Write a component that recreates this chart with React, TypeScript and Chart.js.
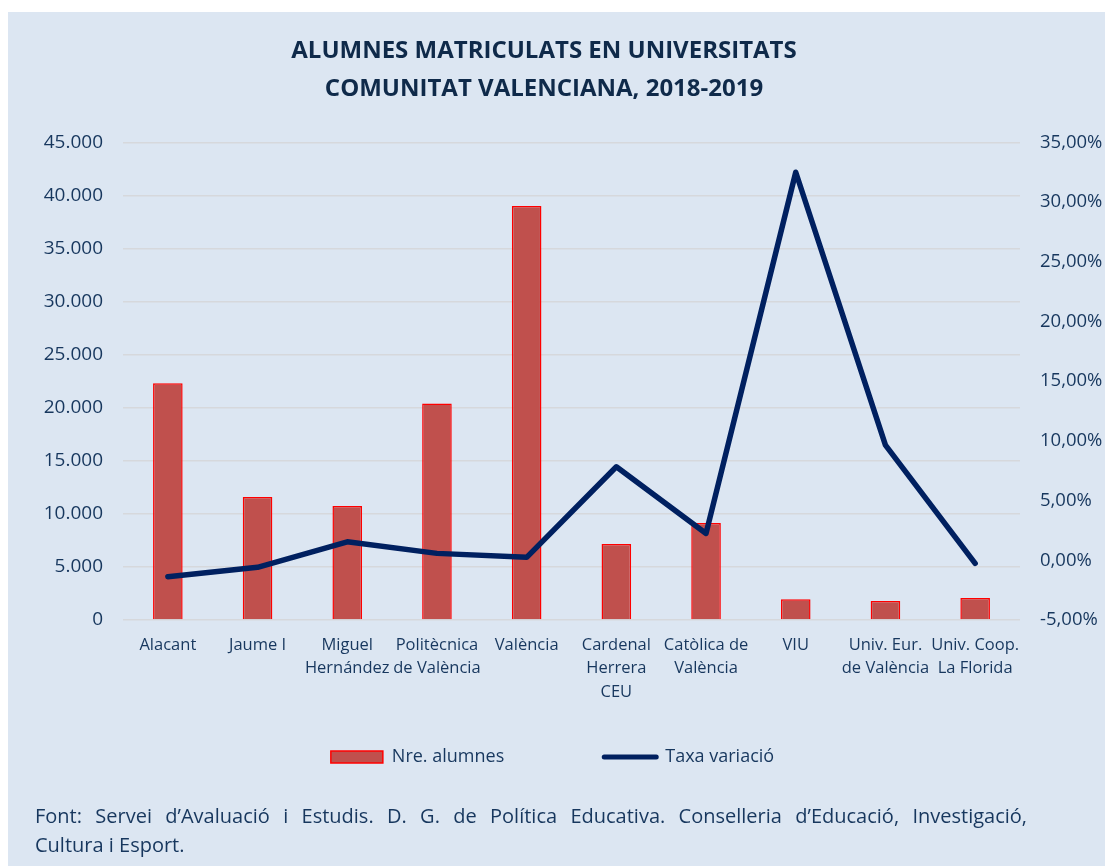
import React, { useEffect, useRef } from 'react';
import { Chart, registerables } from 'chart.js';

Chart.register(...registerables);

// ---- data ----
const categories: string[][] = [
  ['Alacant'],
  ['Jaume I'],
  ['Miguel', 'Hernández'],
  ['Politècnica', 'de València'],
  ['València'],
  ['Cardenal', 'Herrera', 'CEU'],
  ['Catòlica de', 'València'],
  ['VIU'],
  ['Univ. Eur.', 'de València'],
  ['Univ. Coop.', 'La Florida'],
];
const students = [22300, 11600, 10750, 20400, 39000, 7150, 9150, 1950, 1780, 2070];
const variation = [-0.0138, -0.0059, 0.0155, 0.0058, 0.0025, 0.0783, 0.0225, 0.325, 0.0964, -0.0026];
const leftAxis = { min: 0, max: 45000, step: 5000 };
const rightAxis = { min: -0.05, max: 0.35, step: 0.05 };
const titleLines = ['ALUMNES MATRICULATS EN UNIVERSITATS', 'COMUNITAT VALENCIANA, 2018-2019'];
const seriesNames = ['Nre. alumnes', 'Taxa variació'];
const sourceLines = [
  'Font: Servei d’Avaluació i Estudis. D. G. de Política Educativa. Conselleria d’Educació, Investigació,',
  'Cultura i Esport.',
];

// ---- style ----
const BG = '#dce6f2';
const TEXT = '#17375e';
const TITLE = '#0f2a4a';
const BAR_FILL = '#c0504d';
const BAR_BORDER = '#ff0000';
const LINE = '#002060';
const GRID = '#d6d8dc';
const FONT = "'Open Sans', 'DejaVu Sans', sans-serif";

const W = 1097;
const H = 854;

const fmtThousands = (v: number) => {
  const s = Math.round(v).toString();
  return s.replace(/\B(?=(\d{3})+(?!\d))/g, '.');
};
const fmtPct = (v: number) => {
  const r = Math.round(v * 10000) / 100;
  return r.toFixed(2).replace('.', ',') + '%';
};

const shiftBlocks = {
  id: 'shiftBlocks',
  afterLayout(chart: any) {
    const t = chart.titleBlock;
    if (t) {
      t.left -= 12.5;
      t.right -= 12.5;
    }
    const l = chart.legend;
    if (l) {
      l.left -= 4;
      l.right -= 4;
    }
  },
};

export default function App() {
  const ref = useRef<HTMLCanvasElement | null>(null);

  useEffect(() => {
    if (!ref.current) return;
    const chart = new Chart(ref.current, {
      type: 'bar',
      data: {
        labels: categories,
        datasets: [
          {
            type: 'bar',
            label: seriesNames[0],
            data: students,
            backgroundColor: BAR_FILL,
            borderColor: BAR_BORDER,
            borderWidth: 1.5,
            barPercentage: 0.33,
            categoryPercentage: 1,
            yAxisID: 'y',
            order: 1,
            pointStyle: 'rect',
          } as any,
          {
            type: 'line',
            label: seriesNames[1],
            data: variation,
            borderColor: LINE,
            backgroundColor: LINE,
            borderWidth: 5.5,
            pointRadius: 0,
            pointHoverRadius: 0,
            pointStyle: 'line',
            pointBorderWidth: 5,
            pointBorderColor: LINE,
            borderCapStyle: 'round',
            borderJoinStyle: 'round',
            tension: 0,
            yAxisID: 'y1',
            order: 0,
          } as any,
        ],
      },
      plugins: [shiftBlocks],
      options: {
        responsive: false,
        animation: false,
        maintainAspectRatio: false,
        layout: { padding: { left: 0, right: 0, top: 0, bottom: 90 } },
        plugins: {
          tooltip: { enabled: false },
          title: {
            display: true,
            text: titleLines,
            color: TITLE,
            font: { family: FONT, size: 24, weight: 'bold', lineHeight: 1.55 },
            padding: { top: 21, bottom: 35 },
          },
          legend: {
            display: true,
            position: 'bottom',
            labels: {
              color: TEXT,
              font: { family: FONT, size: 18 },
              usePointStyle: true,
              pointStyleWidth: 52,
              boxHeight: 12,
              padding: 100,
              sort: (a: any, b: any) => a.datasetIndex - b.datasetIndex,
              generateLabels: (c: any) => {
                const items = Chart.defaults.plugins.legend.labels.generateLabels(c);
                return items.map((it: any) => {
                  if (it.datasetIndex === 1) {
                    return { ...it, pointStyle: 'line', lineWidth: 5, strokeStyle: LINE, lineCap: 'round' };
                  }
                  return { ...it, pointStyle: 'rect', lineWidth: 1.5, strokeStyle: BAR_BORDER, fillStyle: BAR_FILL };
                });
              },
            },
          },
        },
        scales: {
          x: {
            grid: { display: false, drawTicks: false },
            border: { display: false },
            ticks: {
              color: TEXT,
              font: { family: FONT, size: 16.5, lineHeight: 1.42 },
              mirror: true,
              padding: -36.7,
              maxRotation: 0,
              autoSkip: false,
            },
            afterFit: (s: any) => {
              s.height = 28;
            },
          },
          y: {
            position: 'left',
            min: leftAxis.min,
            max: leftAxis.max,
            grid: { color: GRID, lineWidth: 1.5, drawTicks: false },
            border: { display: false },
            ticks: {
              stepSize: leftAxis.step,
              color: TEXT,
              font: { family: FONT, size: 19 },
              padding: 20,
              callback: (v: any) => fmtThousands(Number(v)),
            },
            afterFit: (s: any) => {
              s.width = 115;
            },
          },
          y1: {
            position: 'right',
            min: rightAxis.min,
            max: rightAxis.max,
            grid: { display: false, drawTicks: false },
            border: { display: false },
            ticks: {
              stepSize: rightAxis.step,
              color: TEXT,
              font: { family: FONT, size: 18.5 },
              padding: 20,
              callback: (v: any) => fmtPct(Number(v)),
            },
            afterFit: (s: any) => {
              s.width = W - 1012;
            },
          },
        },
      },
    });
    return () => chart.destroy();
  }, []);

  return (
    <div
      style={{
        position: 'fixed',
        left: 8,
        top: 12,
        width: W,
        height: H,
        background: BG,
        overflow: 'hidden',
      }}
    >
      <canvas ref={ref} width={W} height={H} style={{ position: 'absolute', left: 0, top: 0, width: W, height: H }} />
      <div
        style={{
          position: 'absolute',
          left: 27,
          top: 789,
          width: 992,
          fontFamily: FONT,
          fontSize: 20,
          lineHeight: '29.3px',
          color: TEXT,
        }}
      >
        <div style={{ textAlign: 'justify', textAlignLast: 'justify', whiteSpace: 'nowrap' } as any}>{sourceLines[0]}</div>
        <div>{sourceLines[1]}</div>
      </div>
    </div>
  );
}
